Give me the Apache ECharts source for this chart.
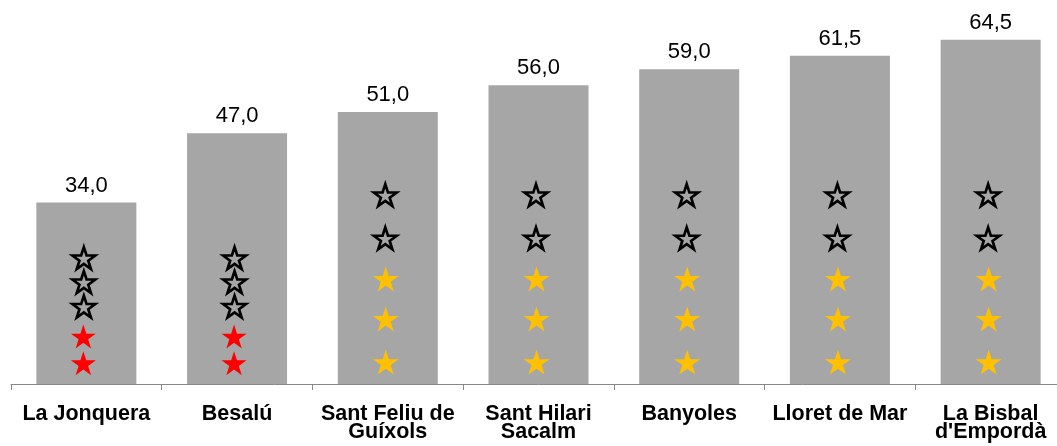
<!DOCTYPE html>
<html>
<head>
<meta charset="utf-8">
<style>
  html, body { margin: 0; padding: 0; background: #ffffff; overflow: hidden; width: 1057px; height: 446px; }
  #chart { width: 1066px; height: 446px; }
</style>
<script src="https://cdn.jsdelivr.net/npm/echarts@6/dist/echarts.min.js"></script>
</head>
<body>
<div id="chart"></div>
<script>
const categories = ['La Jonquera', 'Besalú', 'Sant Feliu de\nGuíxols', 'Sant Hilari\nSacalm', 'Banyoles', 'Lloret de Mar', 'La Bisbal\nd\'Empordà'];
const values = [34.0, 47.0, 51.0, 56.0, 59.0, 61.5, 64.5];
// star levels (value units) per category, bottom to top
const starLevels = [
  [3.9, 8.9, 14.5, 19.1, 23.6],
  [3.9, 8.9, 14.5, 19.1, 23.6],
  [4.1, 12.2, 19.7, 27.3, 35.4],
  [4.1, 12.2, 19.7, 27.3, 35.4],
  [4.1, 12.2, 19.7, 27.3, 35.4],
  [4.1, 12.2, 19.7, 27.3, 35.4],
  [4.1, 12.2, 19.7, 27.3, 35.4]
];
const filledStars = [2, 2, 3, 3, 3, 3, 3];   // filled stars, rest are hollow
const filledKind = ['red', 'red', 'gold', 'gold', 'gold', 'gold', 'gold'];

const STAR = 'path://M50 0 L61.23 34.55 L97.55 34.55 L68.17 55.9 L79.39 90.45 L50 69.1 L20.61 90.45 L31.83 55.9 L2.45 34.55 L38.77 34.55 Z';

const redData = [], goldData = [], hollowData = [];
starLevels.forEach((levels, i) => {
  levels.forEach((v, j) => {
    const pt = [i, v];
    if (j < filledStars[i]) {
      (filledKind[i] === 'red' ? redData : goldData).push(pt);
    } else {
      hollowData.push(pt);
    }
  });
});

const FONT = '"Liberation Sans", Arial, sans-serif';
const chart = echarts.init(document.getElementById('chart'), null, { renderer: 'canvas' });
chart.setOption({
  animation: false,
  backgroundColor: '#ffffff',
  grid: { left: 11, right: 0, top: 10.5, bottom: 62, containLabel: false },
  xAxis: {
    type: 'category',
    data: categories,
    boundaryGap: true,
    axisLine: { show: true, lineStyle: { color: '#888888', width: 1 } },
    axisTick: { show: true, length: 6, alignWithLabel: false, lineStyle: { color: '#888888' } },
    axisLabel: {
      interval: 0,
      margin: 21,
      fontFamily: FONT,
      fontWeight: 'bold',
      fontSize: 21.5,
      lineHeight: 18,
      color: '#000000'
    }
  },
  yAxis: {
    type: 'value',
    min: 0,
    max: 70,
    show: false
  },
  series: [
    {
      type: 'bar',
      data: values,
      barWidth: 100,
      itemStyle: { color: '#a6a6a6' },
      label: {
        show: true,
        position: 'top',
        distance: 6,
        fontFamily: FONT,
        fontSize: 22,
        color: '#000000',
        formatter: p => p.value.toFixed(1).replace('.', ',')
      },
      z: 1
    },
    {
      type: 'scatter',
      data: redData,
      symbol: STAR,
      symbolSize: [25, 24],
      symbolOffset: [-3, 0],
      itemStyle: { color: '#ff0000', opacity: 1 },
      z: 5
    },
    {
      type: 'scatter',
      data: goldData,
      symbol: STAR,
      symbolSize: [26, 25],
      symbolOffset: [-2, 0],
      itemStyle: { color: '#ffc000', opacity: 1 },
      z: 5
    },
    {
      type: 'scatter',
      data: hollowData,
      symbol: STAR,
      symbolSize: [23, 22],
      symbolOffset: [-2.5, 0],
      itemStyle: { color: 'rgba(0,0,0,0)', borderColor: '#000000', borderWidth: 2.6, opacity: 1 },
      z: 5
    }
  ]
});
</script>
</body>
</html>
